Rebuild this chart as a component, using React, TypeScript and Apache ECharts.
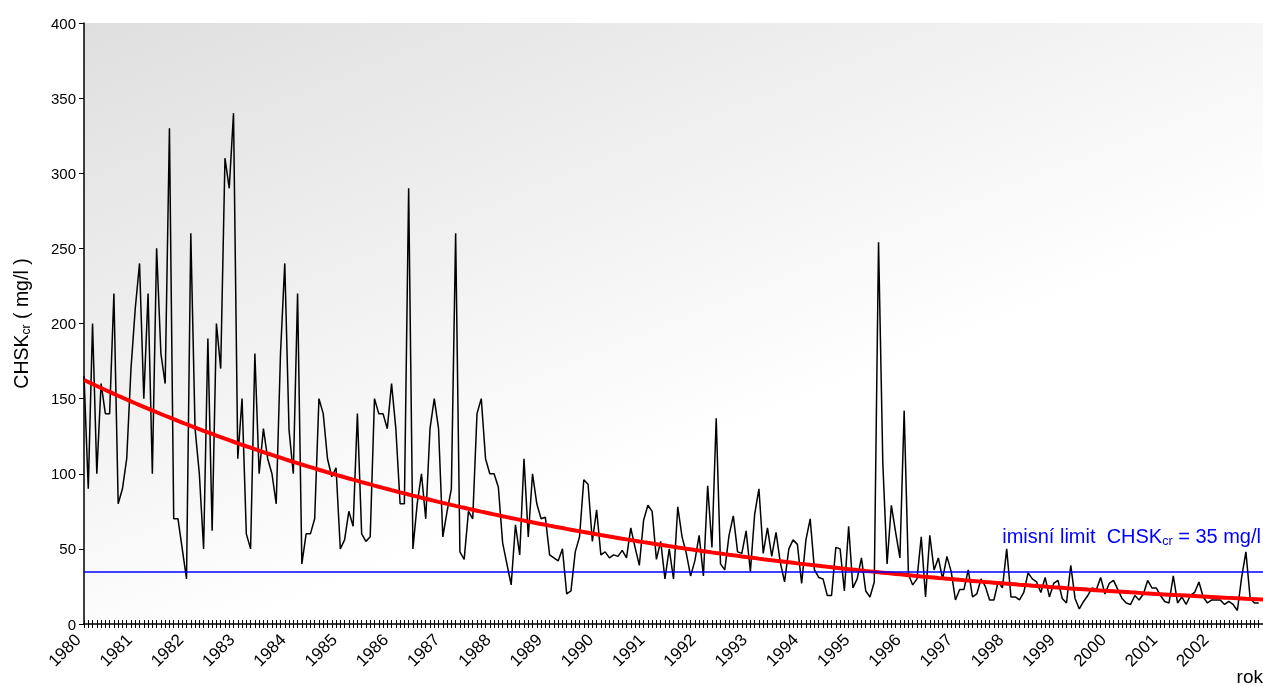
import React, { useEffect, useRef } from "react";
import * as echarts from "echarts";

// ---- data (monthly CHSKcr values, mg/l) ----
const startYear = 1980;
const endYear = 2003;

const chsk1980to1983 = [
  165, 90, 200, 100, 160, 140, 140, 220, 80, 90, 110, 170,
  210, 240, 150, 220, 100, 250, 180, 160, 330, 70, 70, 50,
  30, 260, 130, 100, 50, 190, 62, 200, 170, 310, 290, 340,
  110, 150, 60, 50, 180, 100, 130, 110, 100, 80, 180, 240,
];
const chsk1984to1987 = [
  129, 100, 220, 40, 60, 60, 70, 150, 140, 110, 98, 104,
  50, 56, 75, 65, 140, 60, 55, 58, 150, 140, 140, 130,
  160, 130, 80, 80, 290, 50, 80, 100, 70, 130, 150, 130,
  58, 75, 90, 260, 48, 43, 75, 70, 140, 150, 110, 100,
];
const chsk1988to1991 = [
  100, 91, 54, 40, 26, 66, 46, 110, 58, 100, 80, 70,
  71, 46, 44, 42, 50, 20, 22, 48, 58, 96, 93, 55,
  76, 46, 48, 44, 46, 45, 49, 44, 64, 51, 39, 69,
  79, 75, 43, 55, 30, 50, 30, 78, 58, 47, 32, 42,
];
const chsk1992to1995 = [
  59, 32, 92, 51, 137, 40, 36, 59, 72, 48, 47, 62,
  35, 73, 90, 47, 64, 45, 61, 41, 28, 50, 56, 53,
  27, 56, 70, 36, 31, 30, 19, 19, 51, 50, 22, 65,
  24, 30, 44, 22, 18, 28, 254, 107, 40, 79, 61, 44,
];
const chsk1996to1999 = [
  142, 33, 26, 30, 58, 18, 59, 36, 44, 30, 45, 35,
  16, 23, 23, 36, 18, 20, 30, 25, 16, 16, 28, 24,
  50, 18, 18, 16, 21, 34, 30, 28, 21, 31, 18, 27,
  29, 17, 14, 39, 17, 10, 15, 19, 24, 23, 31, 20,
];
const chsk2000to2002 = [
  27, 29, 23, 17, 14, 13, 19, 16, 20, 29, 24, 24,
  19, 15, 14, 32, 14, 18, 13, 19, 21, 28, 18, 14,
  16, 16, 16, 13, 15, 13, 9, 31, 48, 17, 14, 14,
];

const limitValue = 35;
const yMin = 0;
const yMax = 400;
const yStep = 50;

const axisTitle = { main: "CHSK", sub: "cr", unit: " ( mg/l )" };
const limitText = { prefix: "imisní limit  CHSK", sub: "cr", suffix: ` = ${limitValue} mg/l` };
const xAxisTitle = "rok";

const FONT = "'Liberation Sans', Arial, Helvetica, sans-serif";

export default function App() {
  const ref = useRef<HTMLDivElement>(null);

  useEffect(() => {
    if (!ref.current) return;
    const chart = echarts.init(ref.current, null, { renderer: "svg" });

    const values = [
      ...chsk1980to1983,
      ...chsk1984to1987,
      ...chsk1988to1991,
      ...chsk1992to1995,
      ...chsk1996to1999,
      ...chsk2000to2002,
    ];
    const seriesData = values.map((v, i) => [startYear + i / 12, v]);

    // exponential trend (least squares on ln y), like a spreadsheet trendline
    let sx = 0, sy = 0, sxx = 0, sxy = 0;
    const n = values.length;
    values.forEach((v, i) => {
      const t = i / 12;
      const ly = Math.log(v);
      sx += t; sy += ly; sxx += t * t; sxy += t * ly;
    });
    const b = (n * sxy - sx * sy) / (n * sxx - sx * sx);
    const a = (sy - b * sx) / n;
    const trendData: number[][] = [];
    for (let k = 0; k <= (endYear - startYear) * 12; k++) {
      const t = k / 12;
      trendData.push([startYear + t, Math.exp(a + b * t)]);
    }

    const option: any = {
      animation: false,
      textStyle: { fontFamily: FONT },
      grid: {
        left: 84,
        right: 0,
        top: 23,
        bottom: 62,
        show: true,
        borderWidth: 0,
        outerBoundsMode: "none",
        backgroundColor: new echarts.graphic.LinearGradient(0, 0, 0.54, 0.69, [
          { offset: 0, color: "#dfdfdf" },
          { offset: 1, color: "#ffffff" },
        ]),
      },
      xAxis: [
        {
          type: "value",
          min: startYear,
          max: endYear,
          interval: 1,
          position: "bottom",
          axisLine: { show: true, lineStyle: { color: "#000", width: 1.5 } },
          axisTick: { show: true, inside: false, length: 4, lineStyle: { color: "#000", width: 1 } },
          minorTick: { show: true, splitNumber: 12, length: 4, lineStyle: { color: "#000", width: 1 } },
          splitLine: { show: false },
          minorSplitLine: { show: false },
          axisLabel: {
            rotate: 45,
            fontSize: 17,
            color: "#000",
            fontFamily: FONT,
            margin: 19,
            align: "right",
            verticalAlign: "bottom",
            formatter: (v: number) => (v >= endYear ? "" : String(v)),
          },
        },
        {
          type: "value",
          min: startYear,
          max: endYear,
          interval: 1,
          position: "bottom",
          axisLine: { show: false },
          axisTick: { show: true, inside: true, length: 4, lineStyle: { color: "#000", width: 1 } },
          minorTick: { show: true, splitNumber: 12, length: 4, lineStyle: { color: "#000", width: 1 } },
          splitLine: { show: false },
          axisLabel: { show: false },
        },
      ],
      yAxis: {
        type: "value",
        min: yMin,
        max: yMax,
        interval: yStep,
        axisLine: { show: true, lineStyle: { color: "#000", width: 1.5 } },
        axisTick: { show: true, length: 5, lineStyle: { color: "#000" } },
        splitLine: { show: false },
        axisLabel: { fontSize: 15, color: "#000", fontFamily: FONT, margin: 8 },
        name: `{a|${axisTitle.main}}{s|${axisTitle.sub}}{a|${axisTitle.unit}}`,
        nameLocation: "middle",
        nameRotate: 90,
        nameGap: 52,
        nameTextStyle: {
          color: "#000",
          fontFamily: FONT,
          fontSize: 19,
          rich: {
            a: { fontSize: 19.5, color: "#000", fontFamily: FONT, lineHeight: 22 },
            s: { fontSize: 12, color: "#000", fontFamily: FONT, verticalAlign: "bottom", lineHeight: 12 },
          },
        },
      },
      graphic: [
        {
          type: "text",
          right: 0,
          bottom: 0,
          style: { text: xAxisTitle, fontSize: 19, fill: "#000", fontFamily: FONT },
        },
      ],
      series: [
        {
          type: "line",
          data: seriesData,
          xAxisIndex: 0,
          symbol: "none",
          showSymbol: false,
          lineStyle: { color: "#000", width: 1.5 },
          z: 3,
          markLine: {
            silent: true,
            symbol: ["none", "none"],
            lineStyle: { color: "#0000ff", width: 1.5, type: "solid" },
            data: [{ yAxis: limitValue }],
            label: {
              show: true,
              position: "insideEndTop",
              distance: [2, 24],
              formatter: `{a|${limitText.prefix}}{s|${limitText.sub}}{a|${limitText.suffix}}`,
              rich: {
                a: { fontSize: 20, color: "#0000ff", fontFamily: FONT, lineHeight: 22 },
                s: { fontSize: 12.5, color: "#0000ff", fontFamily: FONT, verticalAlign: "bottom", lineHeight: 12 },
              },
            },
          },
        },
        {
          type: "line",
          data: trendData,
          xAxisIndex: 0,
          symbol: "none",
          showSymbol: false,
          lineStyle: { color: "#ff0000", width: 4 },
          z: 4,
        },
      ],
    };

    chart.setOption(option);
    return () => chart.dispose();
  }, []);

  return (
    <div
      ref={ref}
      style={{ position: "fixed", left: 0, top: 0, width: 1263, height: 686 }}
    />
  );
}
